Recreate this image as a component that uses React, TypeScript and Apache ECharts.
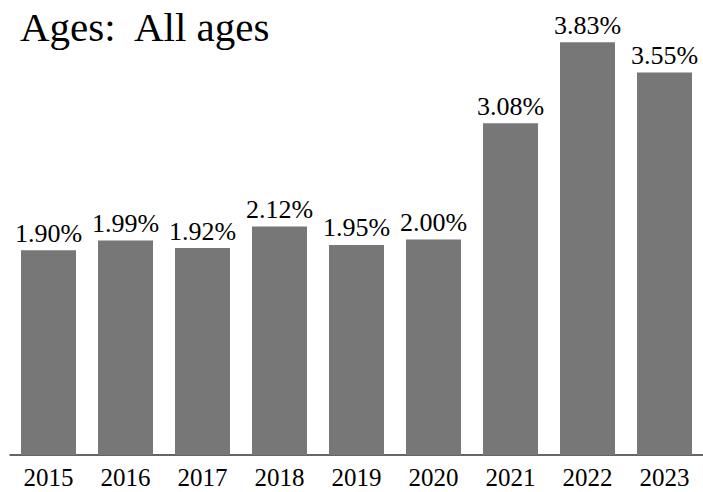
import React, { useEffect, useRef } from "react";
import * as echarts from "echarts";

const categories = ["2015", "2016", "2017", "2018", "2019", "2020", "2021", "2022", "2023"];
const values = [1.9, 1.99, 1.92, 2.12, 1.95, 2.0, 3.08, 3.83, 3.55];
const titleText = "Ages:  All ages";

export default function App() {
  const ref = useRef<HTMLDivElement>(null);
  useEffect(() => {
    if (!ref.current) return;
    const chart = echarts.init(ref.current, undefined, { renderer: "svg" });
    const font = "Liberation Serif";
    const labelStyle = {
      fontFamily: "serif",
      fontSize: 26,
      fontWeight: "normal",
      fontStyle: "normal",
      color: "#000",
    };
    chart.setOption({
      animation: false,
      backgroundColor: "#ffffff",
      textStyle: { fontFamily: font },
      title: {
        text: titleText,
        left: 15,
        top: 1,
        textStyle: { fontFamily: font, fontSize: 41, fontWeight: "normal", color: "#000" },
      },
      grid: { left: 10, right: 0, top: 24, bottom: 37 },
      xAxis: {
        type: "category",
        data: categories,
        axisLine: { show: true, lineStyle: { color: "#333", width: 1.5 } },
        axisTick: { show: false },
        axisLabel: { fontFamily: font, fontSize: 25, color: "#000", margin: 10 },
      },
      yAxis: {
        type: "value",
        min: 0,
        max: 4,
        show: false,
        splitLine: { show: false },
      },
      series: [
        {
          type: "bar",
          data: values.map((v) => ({
            value: v,
            label: { ...labelStyle },
          })),
          barWidth: 55,
          itemStyle: { color: "#777777" },
          label: {
            show: true,
            position: "top",
            distance: 4,
            ...labelStyle,
            formatter: (p: any) => p.value.toFixed(2) + "%",
          },
        },
      ],
    });
    return () => chart.dispose();
  }, []);
  return (
    <div
      ref={ref}
      style={{ position: "fixed", left: 0, top: 0, width: 703, height: 492 }}
    />
  );
}
